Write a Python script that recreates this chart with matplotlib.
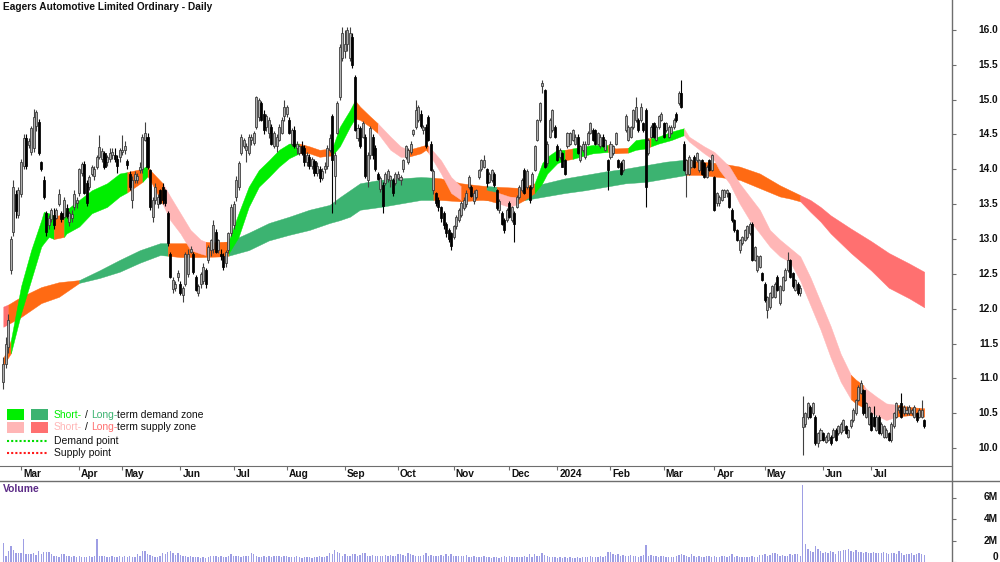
#!/usr/bin/env python3
import matplotlib
matplotlib.use("Agg")
import matplotlib.pyplot as plt
import matplotlib.transforms as mtransforms
from matplotlib.lines import Line2D
from matplotlib.patches import Rectangle
import numpy as np
import pandas as pd

plt.rcParams["font.family"] = ["Liberation Sans", "DejaVu Sans"]

W, H = 1000, 562
PRICE_BOTTOM_PX = 466
VOLUME_TOP_PX = 481
AXIS_X_PX = 952

TITLE = "Eagers Automotive Limited Ordinary - Daily"
FIRST_DAY = "2023-02-20"
LAST_DAY = "2024-07-30"
ASX_HOLIDAYS = ["2023-04-07", "2023-04-10", "2023-04-25", "2023-06-12", "2023-12-25",
                "2023-12-26", "2024-01-01", "2024-01-26", "2024-03-29", "2024-04-01",
                "2024-04-25", "2024-06-10"]

opens = [
    10.95, 11.20, 11.45, 12.55, 13.10, 13.65, 13.35, 13.65, 14.05, 14.45,
    14.35, 14.25, 14.30, 14.62, 14.68, 14.10, 13.85, 13.37, 13.20, 13.28,
    13.35, 13.30, 13.50, 13.37, 13.32, 13.45, 13.25, 13.30, 13.46, 13.52,
    13.66, 13.95, 14.08, 13.80, 13.75, 13.94, 13.90, 14.04, 14.18, 14.15,
    14.23, 14.10, 14.15, 14.20, 14.20, 14.15, 14.18, 14.25, 14.28, 14.12,
    13.94, 13.56, 13.85, 13.85, 13.99, 14.00, 14.42, 14.47, 13.99, 13.32,
    13.56, 13.50, 13.70, 13.75, 13.70, 13.37, 12.79, 12.28, 12.30, 12.46,
    12.36, 12.20, 12.36, 12.50, 12.82, 12.79, 12.46, 12.22, 12.36, 12.40,
    12.55, 12.70, 12.84, 12.85, 13.10, 12.84, 12.79, 12.75, 12.65, 12.84,
    13.08, 13.20, 13.60, 13.75, 14.23, 14.33, 14.28, 14.23, 14.42, 14.38,
    14.61, 14.75, 14.95, 14.80, 14.61, 14.52, 14.61, 14.33, 14.33, 14.42,
    14.52, 14.76, 14.80, 14.71, 14.37, 14.56, 14.30, 14.23, 14.33, 14.30,
    14.10, 14.18, 14.05, 14.12, 13.95, 14.00, 13.88, 14.00, 14.05, 14.28,
    14.76, 13.90, 14.52, 15.04, 15.60, 15.70, 15.80, 15.60, 15.90, 15.32,
    14.45, 14.60, 14.47, 14.47, 13.85, 14.20, 14.47, 14.30, 13.94, 13.72,
    13.78, 13.80, 13.86, 13.85, 13.85, 13.80, 13.88, 13.85, 14.00, 14.18,
    14.10, 14.25, 14.50, 14.61, 14.71, 14.80, 14.56, 14.61, 14.75, 14.37,
    13.70, 13.66, 13.56, 13.46, 13.37, 13.22, 13.13, 13.08, 13.03, 13.18,
    13.27, 13.35, 13.45, 13.50, 13.75, 13.75, 13.55, 13.60, 13.89, 14.00,
    14.04, 14.00, 13.82, 13.85, 13.94, 13.70, 13.42, 13.37, 13.27, 13.27,
    13.51, 13.27, 13.37, 13.46, 13.61, 13.70, 13.99, 13.75, 13.75, 13.75,
    13.99, 14.42, 14.71, 15.19, 15.14, 14.09, 14.47, 14.56, 14.61, 14.33,
    14.18, 14.23, 14.13, 14.33, 14.37, 14.42, 14.37, 14.47, 14.13, 14.28,
    14.18, 14.37, 14.52, 14.56, 14.56, 14.37, 14.33, 14.47, 14.28, 14.13,
    14.18, 14.23, 14.37, 14.13, 14.09, 13.99, 14.56, 14.42, 14.47, 14.61,
    14.71, 14.71, 14.71, 14.66, 14.85, 14.23, 14.47, 14.66, 14.42, 14.61,
    14.71, 14.66, 14.56, 14.47, 14.52, 14.61, 14.80, 14.95, 15.09, 14.37,
    13.94, 13.94, 14.04, 14.18, 14.13, 13.99, 14.13, 14.09, 13.89, 14.13,
    13.99, 13.89, 13.51, 13.51, 13.56, 13.61, 13.66, 13.66, 13.42, 13.27,
    13.13, 12.84, 12.94, 12.99, 13.03, 13.08, 13.22, 12.70, 12.55, 12.60,
    12.51, 12.36, 11.98, 12.03, 12.17, 12.17, 12.46, 12.08, 12.27, 12.41,
    12.55, 12.70, 12.51, 12.27, 12.36, 12.22, 10.30, 10.35, 10.45, 10.59,
    10.50, 10.45, 10.07, 10.12, 10.21, 10.09, 10.12, 10.16, 10.16, 10.26,
    10.21, 10.23, 10.26, 10.31, 10.16, 10.31, 10.40, 10.50, 10.69, 10.79,
    10.83, 10.45, 10.35, 10.50, 10.45, 10.26, 10.45, 10.21, 10.16, 10.16,
    10.21, 10.12, 10.31, 10.45, 10.55, 10.64, 10.50, 10.50, 10.50, 10.50,
    10.45, 10.50, 10.45, 10.45, 10.40,
]
highs = [
    11.30, 11.60, 11.93, 13.05, 13.85, 13.70, 13.75, 14.15, 14.50, 14.50,
    14.45, 14.62, 14.87, 14.85, 14.72, 14.12, 13.90, 13.40, 13.35, 13.45,
    13.45, 13.45, 13.72, 13.40, 13.60, 13.50, 13.40, 13.42, 13.70, 13.60,
    14.02, 14.10, 14.12, 13.85, 13.92, 14.06, 14.05, 14.20, 14.49, 14.30,
    14.27, 14.20, 14.30, 14.30, 14.30, 14.20, 14.30, 14.49, 14.40, 14.15,
    13.98, 13.90, 13.98, 13.95, 14.10, 14.50, 14.68, 14.52, 14.00, 13.60,
    13.80, 13.65, 13.72, 13.80, 13.72, 13.40, 12.82, 12.45, 12.40, 12.55,
    12.40, 12.33, 12.82, 12.85, 12.90, 12.82, 12.48, 12.35, 12.52, 12.65,
    12.58, 12.92, 13.00, 13.27, 13.15, 13.00, 12.85, 12.80, 12.84, 13.10,
    13.50, 13.55, 13.90, 14.12, 14.50, 14.45, 14.38, 14.50, 14.50, 14.55,
    15.05, 15.02, 14.98, 14.85, 14.80, 14.75, 14.65, 14.55, 14.50, 14.65,
    14.75, 15.00, 14.92, 14.75, 14.60, 14.62, 14.40, 14.35, 14.40, 14.35,
    14.25, 14.22, 14.18, 14.15, 14.10, 14.05, 14.02, 14.10, 14.35, 14.50,
    14.80, 14.25, 14.98, 15.80, 16.05, 16.00, 16.05, 16.05, 15.95, 15.35,
    14.65, 14.62, 14.70, 14.50, 14.25, 14.62, 14.50, 14.35, 13.96, 13.90,
    13.82, 13.96, 14.00, 13.92, 13.88, 13.96, 13.98, 13.92, 14.15, 14.35,
    14.30, 14.40, 14.58, 15.00, 14.92, 14.85, 14.63, 14.65, 14.78, 14.40,
    14.00, 13.68, 13.60, 13.48, 13.40, 13.25, 13.16, 13.10, 13.20, 13.35,
    13.45, 13.55, 13.60, 13.70, 13.92, 13.78, 13.70, 13.72, 14.00, 14.15,
    14.20, 14.02, 13.96, 14.00, 13.96, 13.72, 13.58, 13.40, 13.30, 13.45,
    13.55, 13.48, 13.40, 13.63, 13.77, 13.87, 14.02, 14.00, 13.78, 13.96,
    14.35, 14.72, 14.97, 15.28, 15.16, 14.40, 14.73, 14.87, 14.64, 14.36,
    14.30, 14.25, 14.15, 14.54, 14.54, 14.58, 14.50, 14.50, 14.35, 14.40,
    14.40, 14.55, 14.68, 14.60, 14.58, 14.54, 14.50, 14.50, 14.44, 14.15,
    14.40, 14.35, 14.54, 14.15, 14.12, 14.15, 14.80, 14.63, 14.62, 14.87,
    15.04, 14.73, 14.95, 14.68, 14.88, 14.45, 14.63, 14.68, 14.63, 14.78,
    14.82, 14.68, 14.68, 14.63, 14.63, 14.73, 14.82, 15.12, 15.28, 14.40,
    14.15, 14.20, 14.15, 14.20, 14.25, 14.15, 14.15, 14.10, 14.06, 14.15,
    14.22, 13.90, 13.68, 13.63, 13.72, 13.72, 13.72, 13.68, 13.44, 13.28,
    13.15, 13.00, 13.05, 13.15, 13.20, 13.25, 13.24, 12.90, 12.77, 12.77,
    12.53, 12.38, 12.18, 12.24, 12.34, 12.38, 12.48, 12.34, 12.47, 12.58,
    12.82, 12.72, 12.53, 12.43, 12.38, 12.34, 10.74, 10.52, 10.66, 10.62,
    10.66, 10.48, 10.23, 10.28, 10.23, 10.18, 10.23, 10.18, 10.28, 10.28,
    10.33, 10.37, 10.42, 10.33, 10.27, 10.42, 10.57, 10.71, 10.90, 10.98,
    10.85, 10.66, 10.60, 10.52, 10.60, 10.47, 10.47, 10.37, 10.33, 10.28,
    10.23, 10.37, 10.52, 10.66, 10.62, 10.79, 10.62, 10.60, 10.62, 10.58,
    10.62, 10.52, 10.57, 10.69, 10.42,
]
lows = [
    10.85, 11.15, 11.36, 12.50, 13.05, 13.30, 13.30, 13.60, 14.00, 14.00,
    14.30, 14.20, 14.25, 14.55, 14.20, 13.98, 13.58, 13.05, 13.15, 13.25,
    13.15, 13.28, 13.48, 13.25, 13.30, 13.30, 13.18, 13.25, 13.42, 13.45,
    13.62, 13.90, 13.64, 13.48, 13.70, 13.90, 13.85, 14.00, 14.15, 14.10,
    14.00, 14.05, 14.10, 14.15, 14.10, 13.95, 14.10, 14.20, 14.22, 14.00,
    13.70, 13.45, 13.80, 13.80, 13.95, 13.95, 14.40, 14.00, 13.42, 13.25,
    13.50, 13.45, 13.50, 13.50, 13.48, 12.90, 12.44, 12.22, 12.25, 12.40,
    12.20, 12.10, 12.32, 12.45, 12.80, 12.50, 12.25, 12.18, 12.30, 12.35,
    12.30, 12.65, 12.75, 12.80, 12.80, 12.80, 12.70, 12.55, 12.60, 12.80,
    13.05, 13.15, 13.55, 13.70, 14.20, 14.30, 14.10, 14.20, 14.35, 14.35,
    14.58, 14.70, 14.70, 14.50, 14.55, 14.45, 14.35, 14.30, 14.25, 14.40,
    14.50, 14.70, 14.75, 14.50, 14.33, 14.30, 14.22, 14.20, 14.20, 14.05,
    14.05, 14.00, 14.00, 13.90, 13.90, 13.82, 13.85, 13.95, 14.00, 14.25,
    13.37, 13.50, 14.50, 15.00, 15.55, 15.60, 15.70, 15.55, 15.45, 14.55,
    14.40, 14.30, 14.45, 13.88, 13.75, 14.15, 14.15, 13.98, 13.84, 13.68,
    13.37, 13.78, 13.82, 13.75, 13.62, 13.78, 13.85, 13.78, 13.96, 14.15,
    14.08, 14.22, 14.48, 14.58, 14.68, 14.60, 14.50, 14.30, 14.40, 13.97,
    13.65, 13.48, 13.40, 13.25, 13.15, 13.03, 12.95, 12.84, 13.00, 13.15,
    13.25, 13.32, 13.42, 13.46, 13.72, 13.60, 13.50, 13.58, 13.86, 13.98,
    14.02, 13.75, 13.80, 13.82, 13.75, 13.42, 13.37, 13.20, 13.08, 13.25,
    13.30, 13.25, 12.96, 13.44, 13.58, 13.68, 13.64, 13.72, 13.52, 13.72,
    13.97, 14.40, 14.68, 15.10, 14.02, 14.05, 14.45, 14.54, 14.45, 14.12,
    14.15, 14.03, 13.92, 14.30, 14.35, 14.40, 14.35, 14.22, 14.10, 14.25,
    14.15, 14.35, 14.50, 14.40, 14.35, 14.35, 14.30, 14.32, 14.26, 13.70,
    14.15, 14.20, 14.35, 14.02, 13.92, 13.96, 14.54, 14.40, 14.45, 14.58,
    14.68, 14.54, 14.68, 14.54, 13.46, 14.20, 14.45, 14.45, 14.40, 14.58,
    14.70, 14.45, 14.54, 14.45, 14.50, 14.58, 14.68, 14.92, 14.88, 13.97,
    13.61, 13.92, 14.02, 14.02, 14.10, 13.96, 13.92, 13.87, 13.87, 13.97,
    13.97, 13.40, 13.48, 13.48, 13.54, 13.60, 13.60, 13.44, 13.25, 13.10,
    12.97, 12.80, 12.92, 12.97, 13.00, 13.06, 12.68, 12.68, 12.52, 12.58,
    12.40, 12.10, 11.86, 12.00, 12.15, 12.15, 12.25, 12.05, 12.25, 12.40,
    12.53, 12.44, 12.30, 12.25, 12.20, 12.18, 9.90, 10.30, 10.42, 10.43,
    10.48, 10.05, 10.02, 10.10, 10.10, 10.07, 10.10, 10.05, 10.14, 10.10,
    10.19, 10.20, 10.24, 10.20, 10.14, 10.29, 10.38, 10.48, 10.67, 10.77,
    10.48, 10.43, 10.33, 10.25, 10.30, 10.24, 10.20, 10.19, 10.14, 10.14,
    10.10, 10.09, 10.29, 10.43, 10.50, 10.43, 10.48, 10.47, 10.48, 10.48,
    10.43, 10.38, 10.43, 10.43, 10.28,
]
closes = [
    11.20, 11.50, 11.84, 13.00, 13.75, 13.40, 13.70, 14.10, 14.45, 14.05,
    14.40, 14.60, 14.75, 14.82, 14.23, 14.00, 13.60, 13.10, 13.30, 13.42,
    13.20, 13.42, 13.65, 13.28, 13.56, 13.33, 13.38, 13.36, 13.65, 13.56,
    14.00, 14.07, 13.66, 13.51, 13.89, 14.04, 14.00, 14.18, 14.32, 14.27,
    14.04, 14.18, 14.23, 14.25, 14.15, 14.05, 14.28, 14.28, 14.33, 14.06,
    13.75, 13.85, 13.94, 13.90, 14.04, 14.47, 14.52, 14.04, 13.46, 13.56,
    13.75, 13.61, 13.52, 13.56, 13.51, 12.94, 12.46, 12.41, 12.36, 12.51,
    12.22, 12.30, 12.79, 12.79, 12.86, 12.52, 12.27, 12.32, 12.50, 12.60,
    12.35, 12.89, 12.99, 13.20, 12.82, 12.99, 12.75, 12.60, 12.82, 13.08,
    13.46, 13.50, 13.85, 14.09, 14.47, 14.42, 14.33, 14.47, 14.47, 14.52,
    15.04, 15.00, 14.71, 14.56, 14.76, 14.71, 14.37, 14.52, 14.47, 14.61,
    14.71, 14.90, 14.90, 14.52, 14.56, 14.33, 14.37, 14.33, 14.23, 14.10,
    14.20, 14.05, 14.15, 13.95, 14.05, 13.88, 13.98, 14.05, 14.30, 14.45,
    14.13, 14.20, 14.95, 15.76, 15.95, 15.80, 16.00, 15.95, 15.50, 14.56,
    14.60, 14.33, 14.66, 13.90, 14.20, 14.60, 14.20, 14.00, 13.86, 13.88,
    13.48, 13.94, 13.98, 13.90, 13.66, 13.94, 13.94, 13.89, 14.13, 14.33,
    14.28, 14.37, 14.56, 14.85, 14.90, 14.62, 14.61, 14.33, 14.42, 13.99,
    13.98, 13.51, 13.46, 13.30, 13.20, 13.08, 13.00, 12.90, 13.18, 13.32,
    13.42, 13.51, 13.56, 13.66, 13.89, 13.62, 13.66, 13.70, 13.99, 14.13,
    14.13, 13.80, 13.94, 13.99, 13.78, 13.45, 13.55, 13.22, 13.13, 13.42,
    13.32, 13.46, 13.22, 13.61, 13.75, 13.85, 13.66, 13.97, 13.56, 13.94,
    14.33, 14.71, 14.95, 15.24, 14.04, 14.37, 14.71, 14.85, 14.47, 14.13,
    14.28, 14.04, 13.94, 14.52, 14.52, 14.56, 14.47, 14.23, 14.33, 14.37,
    14.37, 14.52, 14.66, 14.42, 14.37, 14.52, 14.47, 14.33, 14.42, 13.99,
    14.37, 14.33, 14.52, 14.04, 13.94, 14.13, 14.76, 14.61, 14.61, 14.85,
    14.90, 14.56, 14.90, 14.56, 13.75, 14.42, 14.61, 14.47, 14.61, 14.76,
    14.80, 14.47, 14.66, 14.61, 14.61, 14.71, 14.71, 15.09, 14.90, 13.99,
    14.13, 14.18, 14.13, 14.04, 14.23, 14.13, 13.94, 13.89, 14.04, 13.99,
    14.20, 13.42, 13.66, 13.61, 13.70, 13.70, 13.70, 13.46, 13.27, 13.13,
    12.99, 12.99, 13.03, 13.13, 13.18, 13.22, 12.70, 12.89, 12.75, 12.75,
    12.41, 12.12, 12.17, 12.22, 12.32, 12.36, 12.27, 12.32, 12.46, 12.55,
    12.70, 12.46, 12.32, 12.41, 12.22, 12.30, 10.45, 10.50, 10.64, 10.45,
    10.64, 10.07, 10.21, 10.26, 10.12, 10.16, 10.21, 10.07, 10.26, 10.12,
    10.31, 10.35, 10.40, 10.21, 10.26, 10.40, 10.55, 10.69, 10.88, 10.93,
    10.50, 10.64, 10.59, 10.26, 10.31, 10.45, 10.21, 10.35, 10.31, 10.26,
    10.12, 10.35, 10.50, 10.64, 10.59, 10.45, 10.59, 10.55, 10.59, 10.55,
    10.59, 10.40, 10.55, 10.55, 10.31,
]
volume_m = [
    1.75, 0.55, 1.00, 1.45, 1.15, 0.85, 0.80, 0.85, 2.15, 0.75,
    0.70, 0.75, 0.85, 0.65, 1.00, 0.75, 0.90, 0.95, 0.90, 0.70,
    0.60, 0.55, 0.45, 0.70, 0.75, 0.60, 0.55, 0.45, 0.60, 0.50,
    0.55, 0.45, 0.50, 0.45, 0.55, 0.50, 0.55, 2.15, 0.60, 0.55,
    0.55, 0.45, 0.50, 0.55, 0.45, 0.50, 0.55, 0.50, 0.60, 0.45,
    0.60, 0.50, 0.45, 0.75, 0.60, 1.00, 1.05, 0.75, 0.65, 0.60,
    0.50, 0.45, 0.60, 0.85, 0.75, 0.90, 1.05, 0.80, 0.65, 0.85,
    0.65, 0.55, 0.60, 0.50, 0.55, 0.45, 0.50, 0.45, 0.40, 0.45,
    0.40, 0.50, 0.55, 0.60, 0.55, 0.50, 0.60, 0.45, 0.50, 0.55,
    0.70, 0.60, 0.55, 0.55, 0.50, 0.60, 0.55, 0.60, 0.85, 0.70,
    0.55, 0.50, 0.50, 0.60, 0.50, 0.55, 0.50, 0.55, 0.60, 0.55,
    0.50, 0.55, 0.60, 0.50, 0.45, 0.50, 0.55, 0.45, 0.40, 0.45,
    0.45, 0.50, 0.40, 0.45, 0.50, 0.55, 0.45, 0.50, 0.60, 0.80,
    0.70, 1.10, 0.95, 0.85, 0.60, 0.75, 0.60, 0.55, 0.70, 0.75,
    0.60, 0.65, 0.80, 0.85, 0.60, 0.60, 0.65, 0.55, 0.60, 0.60,
    0.55, 0.65, 0.60, 0.65, 0.55, 0.60, 0.70, 0.75, 0.65, 0.60,
    0.85, 0.70, 0.65, 0.60, 0.55, 0.60, 0.65, 0.80, 0.60, 0.65,
    0.55, 0.60, 0.55, 0.65, 0.60, 0.75, 0.60, 0.70, 0.60, 0.55,
    0.60, 0.55, 0.60, 0.65, 0.50, 0.45, 0.55, 0.50, 0.45, 0.50,
    0.55, 0.45, 0.50, 0.40, 0.45, 0.50, 0.40, 0.45, 0.60, 0.50,
    0.55, 0.45, 0.50, 0.45, 0.50, 0.45, 0.55, 0.45, 0.70, 0.50,
    0.75, 0.60, 0.55, 0.80, 0.65, 0.55, 0.50, 0.45, 0.45, 0.40,
    0.45, 0.40, 0.45, 0.40, 0.45, 0.35, 0.40, 0.45, 0.40, 0.50,
    0.45, 0.50, 0.55, 0.45, 0.50, 0.45, 0.55, 0.50, 0.60, 0.95,
    0.90, 0.70, 0.65, 0.70, 0.60, 0.65, 0.55, 0.60, 0.65, 0.55,
    0.60, 0.50, 0.55, 0.65, 1.60, 0.60, 0.65, 0.60, 0.55, 0.45,
    0.60, 0.55, 0.50, 0.45, 0.50, 0.45, 0.55, 0.65, 0.70, 0.65,
    0.60, 0.50, 0.70, 0.55, 0.50, 0.55, 0.45, 0.50, 0.55, 0.60,
    0.50, 0.55, 0.50, 0.45, 0.55, 0.60, 0.50, 0.55, 0.70, 0.50,
    0.55, 0.50, 0.45, 0.50, 0.45, 0.50, 0.55, 0.50, 0.45, 0.65,
    0.65, 0.70, 0.60, 0.65, 0.80, 0.85, 0.70, 0.60, 0.65, 0.55,
    0.60, 0.70, 0.65, 0.75, 0.70, 0.60, 7.20, 1.65, 1.20, 1.05,
    0.95, 1.45, 1.20, 1.05, 0.85, 0.95, 0.80, 1.05, 0.90, 0.75,
    1.00, 1.05, 1.15, 1.10, 1.25, 1.05, 0.95, 1.10, 0.90, 0.95,
    0.85, 0.90, 0.80, 0.80, 0.90, 0.85, 0.80, 0.85, 0.90, 0.80,
    0.75, 0.85, 0.80, 0.70, 1.00, 0.80, 0.65, 0.75, 0.70, 0.80,
    0.65, 0.70, 0.85, 0.70, 0.65,
]

# zone ribbons, read at knots (bar number); state is for the stretch after each knot
# d = demand, s = supply, m = overlap / undecided (orange)
short_idx = [0, 3, 7, 11, 15, 16, 18, 20, 24, 25,
             30, 35, 41, 46, 49, 55, 57, 58, 63, 66,
             70, 74, 78, 80, 86, 89, 93, 97, 101, 105,
             109, 113, 117, 121, 125, 130, 133, 137, 139, 141,
             145, 148, 153, 157, 160, 165, 167, 168, 173, 177,
             181, 184, 188, 191, 195, 200, 203, 206, 210, 213,
             215, 219, 222, 225, 233, 239, 242, 247, 250, 254,
             256, 259, 264, 269, 271, 277, 281, 283, 287, 291,
             295, 299, 303, 307, 311, 315, 319, 323, 327, 331,
             335, 337, 340, 341, 345, 349, 353, 358, 364]
short_hi = [11.29, 11.55, 12.32, 12.84, 13.27, 13.39, 13.37, 13.33, 13.35, 13.42,
            13.56, 13.70, 13.80, 13.94, 13.96, 14.01, 14.06, 13.99, 13.80, 13.61,
            13.37, 13.13, 12.99, 12.96, 12.94, 12.97, 13.37, 13.75, 13.99, 14.13,
            14.28, 14.37, 14.37, 14.33, 14.28, 14.30, 14.61, 14.85, 14.99, 14.90,
            14.76, 14.66, 14.47, 14.33, 14.28, 14.33, 14.35, 14.34, 14.13, 13.89,
            13.75, 13.70, 13.72, 13.70, 13.67, 13.61, 13.60, 13.75, 13.80, 14.09,
            14.18, 14.28, 14.28, 14.30, 14.35, 14.35, 14.30, 14.31, 14.42, 14.44,
            14.45, 14.47, 14.54, 14.59, 14.47, 14.33, 14.25, 14.18, 14.04, 13.80,
            13.61, 13.42, 13.13, 12.99, 12.87, 12.75, 12.45, 12.10, 11.75, 11.35,
            11.05, 10.98, 10.90, 10.85, 10.74, 10.64, 10.62, 10.59, 10.57]
short_lo = [11.19, 11.36, 11.93, 12.41, 12.89, 12.94, 13.03, 13.00, 13.03, 13.08,
            13.18, 13.37, 13.46, 13.61, 13.67, 13.82, 13.90, 13.85, 13.50, 13.27,
            13.08, 12.84, 12.79, 12.77, 12.79, 12.79, 13.03, 13.46, 13.75, 13.89,
            14.04, 14.16, 14.23, 14.23, 14.18, 14.20, 14.33, 14.61, 14.73, 14.71,
            14.61, 14.52, 14.28, 14.18, 14.18, 14.23, 14.28, 14.24, 13.94, 13.66,
            13.56, 13.56, 13.58, 13.56, 13.52, 13.46, 13.50, 13.56, 13.66, 13.80,
            13.94, 14.09, 14.13, 14.15, 14.23, 14.25, 14.23, 14.24, 14.28, 14.30,
            14.33, 14.37, 14.42, 14.49, 14.40, 14.23, 14.13, 13.99, 13.80, 13.51,
            13.27, 13.08, 12.89, 12.75, 12.67, 12.40, 12.05, 11.70, 11.30, 10.95,
            10.70, 10.64, 10.58, 10.55, 10.47, 10.40, 10.45, 10.47, 10.45]
short_state = ["m", "d", "d", "d", "d", "d", "d", "m", "d", "d",
               "d", "d", "d", "d", "m", "d", "m", "m", "s", "s",
               "s", "s", "s", "m", "m", "d", "d", "d", "d", "d",
               "d", "d", "m", "m", "m", "d", "d", "d", "m", "m",
               "m", "s", "s", "s", "m", "m", "m", "s", "s", "s",
               "m", "m", "m", "m", "s", "s", "m", "m", "d", "d",
               "d", "d", "m", "d", "d", "m", "m", "d", "d", "m",
               "d", "d", "d", "s", "s", "s", "s", "s", "s", "s",
               "s", "s", "s", "s", "s", "s", "s", "s", "s", "s",
               "m", "m", "s", "s", "s", "s", "m", "m", "m"]

long_idx = [0, 2, 7, 15, 22, 30, 38, 46, 54, 62,
            65, 70, 78, 86, 89, 97, 105, 113, 121, 129,
            133, 137, 141, 149, 157, 165, 170, 173, 181, 188,
            191, 195, 206, 214, 222, 230, 238, 246, 254, 262,
            270, 275, 283, 291, 299, 307, 311, 315, 319, 323,
            327, 335, 343, 350, 358, 364]
long_hi = [12.03, 12.06, 12.17, 12.31, 12.38, 12.41, 12.55, 12.70, 12.84, 12.94,
           12.94, 12.94, 12.94, 12.96, 12.96, 13.09, 13.23, 13.32, 13.42, 13.49,
           13.60, 13.70, 13.80, 13.85, 13.87, 13.89, 13.88, 13.87, 13.80, 13.77,
           13.76, 13.75, 13.73, 13.80, 13.87, 13.92, 13.97, 14.01, 14.06, 14.11,
           14.14, 14.11, 14.09, 14.04, 13.94, 13.77, 13.70, 13.63, 13.56, 13.46,
           13.34, 13.15, 12.97, 12.80, 12.65, 12.53]
long_lo = [11.74, 11.78, 11.88, 12.08, 12.17, 12.37, 12.44, 12.53, 12.66, 12.77,
           12.76, 12.74, 12.74, 12.75, 12.76, 12.84, 12.98, 13.06, 13.13, 13.23,
           13.27, 13.32, 13.42, 13.46, 13.51, 13.56, 13.56, 13.56, 13.54, 13.56,
           13.56, 13.56, 13.56, 13.61, 13.66, 13.70, 13.75, 13.80, 13.82, 13.87,
           13.92, 13.92, 13.89, 13.85, 13.73, 13.61, 13.58, 13.54, 13.39, 13.25,
           13.08, 12.80, 12.55, 12.30, 12.15, 12.02]
long_state = ["s", "m", "m", "m", "m", "d", "d", "d", "d", "d",
              "m", "m", "m", "m", "d", "d", "d", "d", "d", "d",
              "d", "d", "d", "d", "d", "d", "m", "m", "m", "m",
              "d", "m", "d", "d", "d", "d", "d", "d", "d", "d",
              "m", "m", "m", "m", "m", "m", "m", "s", "s", "s",
              "s", "s", "s", "s", "s", "s"]

price_ticks = [10.0, 10.5, 11.0, 11.5, 12.0, 12.5, 13.0, 13.5, 14.0, 14.5, 15.0, 15.5, 16.0]
volume_ticks = [0, 2, 4, 6]
volume_labels = ["0", "2M", "4M", "6M"]

SHORT_COLORS = {"d": "#00ee00", "s": "#ffb6b6", "m": "#ff6a13"}
LONG_COLORS = {"d": "#3cb371", "s": "#ff7070", "m": "#ff6a13"}
AXIS_COLOR = "#6e6e6e"
TEXT_COLOR = "#111111"


def fx(px):
    return px / W


def fy(py):
    return 1 - py / H


def draw_zone(ax, idx, hi, lo, state, colors, z):
    idx, hi, lo = np.asarray(idx, float), np.asarray(hi), np.asarray(lo)
    start = 0
    for k in range(1, len(idx)):
        if state[k] != state[start] or k == len(idx) - 1:
            seg = slice(start, k + 1)
            ax.fill_between(idx[seg], lo[seg], hi[seg], color=colors[state[start]],
                            edgecolor=colors[state[start]], linewidth=0.3, zorder=z)
            start = k


def rich_text(fig, x, y, parts, size):
    # place coloured pieces one after another, measuring the running prefix
    renderer = fig.canvas.get_renderer()

    def width(s):
        t = fig.text(0, 0, s, fontsize=size)
        w = t.get_window_extent(renderer).width
        t.remove()
        return w

    base = width("x")
    prefix = ""
    for s, color in parts:
        off = (width(prefix + "x") - base) / W if prefix else 0.0
        lead = s[:len(s) - len(s.lstrip(" "))]
        if lead:
            off = (width(prefix + lead + "x") - base) / W
        fig.text(x + off, y, s.strip(" "), color=color, fontsize=size, va="center", ha="left")
        prefix += s


def main():
    n = min(len(opens), len(highs), len(lows), len(closes), len(volume_m))
    o, h, l, c = (np.asarray(a[:n]) for a in (opens, highs, lows, closes))
    vol = np.asarray(volume_m[:n])
    x = np.arange(n)

    days = pd.bdate_range(FIRST_DAY, LAST_DAY, freq="C", holidays=ASX_HOLIDAYS)
    months = pd.Series(days.to_period("M"))
    month_starts = np.flatnonzero(months.ne(months.shift()).to_numpy())[1:]

    fig = plt.figure(figsize=(W / 100, H / 100), dpi=100)
    xlim = (-3.3 / 2.53, (AXIS_X_PX - 3.3) / 2.53)

    ax = fig.add_axes([0, fy(PRICE_BOTTOM_PX), fx(AXIS_X_PX), PRICE_BOTTOM_PX / H])
    ax.set_xlim(*xlim)
    ax.set_ylim(10.0 - (PRICE_BOTTOM_PX - 448) / 69.67, 16.0 + 30 / 69.67)

    draw_zone(ax, long_idx, long_hi, long_lo, long_state, LONG_COLORS, 1)
    draw_zone(ax, short_idx, short_hi, short_lo, short_state, SHORT_COLORS, 2)

    up = c >= o
    body_lo = np.minimum(o, c)
    body = np.maximum(np.abs(c - o), 0.015)
    ax.vlines(x[up], l[up], h[up], color="#404040", linewidth=0.8, zorder=3)
    ax.vlines(x[~up], l[~up], h[~up], color="black", linewidth=0.8, zorder=3)
    ax.bar(x[up], body[up], bottom=body_lo[up], width=0.8, color="#b0b0b0",
           edgecolor="#333333", linewidth=0.55, zorder=4)
    ax.bar(x[~up], body[~up], bottom=body_lo[~up], width=0.8, color="black",
           edgecolor="black", linewidth=0.55, zorder=4)

    for side in ("left", "top", "right"):
        ax.spines[side].set_visible(False)
    ax.spines["bottom"].set_color(AXIS_COLOR)
    ax.set_yticks(price_ticks)
    ax.yaxis.set_ticks_position("right")
    ax.set_xticks(month_starts)
    ax.tick_params(axis="both", direction="out", length=3, width=0.8, color=AXIS_COLOR,
                   labelleft=False, labelright=False, labelbottom=False)

    price_tf = mtransforms.blended_transform_factory(fig.transFigure, ax.transData)
    for v in price_ticks:
        ax.text(fx(998), v, f"{v:.1f}", transform=price_tf, ha="right", va="center",
                fontsize=7.3, fontweight="bold", color=TEXT_COLOR)

    date_tf = mtransforms.blended_transform_factory(ax.transData, fig.transFigure)
    for k in month_starts:
        d = days[k]
        label = str(d.year) if d.month == 1 else d.strftime("%b")
        ax.text(k + 0.8, fy(474), label, transform=date_tf, ha="left", va="center",
                fontsize=7.3, fontweight="bold", color=TEXT_COLOR, clip_on=False)

    axv = fig.add_axes([0, 0, fx(AXIS_X_PX), fy(VOLUME_TOP_PX)])
    axv.set_xlim(*xlim)
    axv.set_ylim(0, (H - VOLUME_TOP_PX) / 10.75)
    axv.bar(x, vol, width=0.55, color="#9e9ee4", linewidth=0, zorder=2)
    for side in ("left", "top", "right", "bottom"):
        axv.spines[side].set_visible(False)
    axv.set_xticks([])
    axv.set_yticks(volume_ticks)
    axv.yaxis.set_ticks_position("right")
    axv.tick_params(axis="y", direction="out", length=3, width=0.8, color=AXIS_COLOR,
                    labelleft=False, labelright=False)
    vol_tf = mtransforms.blended_transform_factory(fig.transFigure, axv.transData)
    for v, lab in zip(volume_ticks, volume_labels):
        axv.text(fx(998), v, lab, transform=vol_tf, ha="right",
                 va="bottom" if v == 0 else "center",
                 fontsize=7.3, fontweight="bold", color=TEXT_COLOR, clip_on=False)

    fig.add_artist(Line2D([0, 1], [fy(VOLUME_TOP_PX)] * 2, color=AXIS_COLOR, linewidth=1.0))
    fig.add_artist(Line2D([fx(AXIS_X_PX)] * 2, [0, 1], color=AXIS_COLOR, linewidth=1.0))

    fig.text(fx(3), fy(7), TITLE, fontsize=7.3, fontweight="bold", va="center", color=TEXT_COLOR)
    fig.text(fx(3), fy(489), "Volume", fontsize=7.4, fontweight="bold", va="center", color="#5b2a86")

    # legend, lower left of the price panel
    swatches = [(409, SHORT_COLORS["d"], LONG_COLORS["d"]), (422, SHORT_COLORS["s"], LONG_COLORS["s"])]
    for top, c1, c2 in swatches:
        for left, col in ((7, c1), (31, c2)):
            fig.add_artist(Rectangle((fx(left), fy(top + 11)), 17 / W, 11 / H,
                                     transform=fig.transFigure, color=col, linewidth=0))
    legend_size = 7.45
    rich_text(fig, fx(54), fy(414.5), [("Short-", SHORT_COLORS["d"]), (" / ", TEXT_COLOR),
                                       ("Long-", LONG_COLORS["d"]), ("term demand zone", TEXT_COLOR)],
              legend_size)
    rich_text(fig, fx(54), fy(427), [("Short-", SHORT_COLORS["s"]), (" / ", TEXT_COLOR),
                                     ("Long-", LONG_COLORS["s"]), ("term supply zone", TEXT_COLOR)],
              legend_size)
    for yy, col, lab in ((441, "#00dd00", "Demand point"), (453, "#ff1a1a", "Supply point")):
        fig.add_artist(Line2D([fx(7), fx(47)], [fy(yy)] * 2, color=col, linewidth=1.5,
                              linestyle=(0, (1, 1))))
        fig.text(fx(54), fy(yy), lab, fontsize=legend_size, va="center", color=TEXT_COLOR)

    fig.savefig("out.png", dpi=100)
    plt.close(fig)


if __name__ == "__main__":
    main()
